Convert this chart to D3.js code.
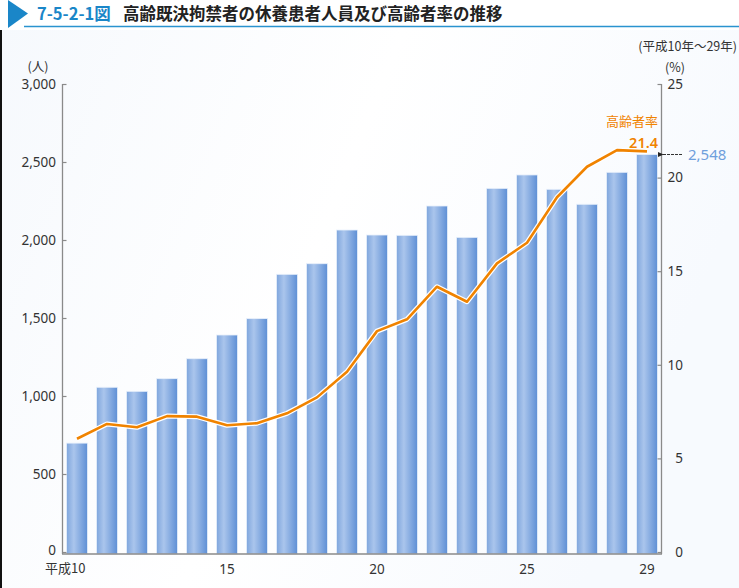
<!DOCTYPE html>
<html>
<head>
<meta charset="utf-8">
<script src="https://cdn.jsdelivr.net/npm/d3@7"></script>
<style>
  html, body { margin: 0; padding: 0; background: #fff; overflow: hidden; }
  svg { display: block; font-family: "Noto Sans CJK JP", "Noto Sans", sans-serif; }
</style>
</head>
<body>
<svg id="chart" width="739" height="588"></svg>
<script>
// ---- data ----
const years = ["10","11","12","13","14","15","16","17","18","19","20","21","22","23","24","25","26","27","28","29"];
const tickYears = ["10","15","20","25","29"];
const patients = [698,1056,1030,1111,1239,1391,1496,1780,1848,2064,2032,2030,2218,2017,2331,2417,2325,2229,2434,2548];
const elderlyRate = [6.05,6.84,6.66,7.26,7.23,6.77,6.88,7.41,8.26,9.63,11.8,12.43,14.17,13.37,15.42,16.52,18.95,20.58,21.47,21.4];
const leftTicks = [0,500,1000,1500,2000,2500,3000];
const rightTicks = [0,5,10,15,20,25];

const svg = d3.select("#chart");
const defs = svg.append("defs");

// faint background tint
const bg = defs.append("linearGradient").attr("id","bgGrad").attr("x1","0").attr("x2","1").attr("y1","0").attr("y2","0.3");
bg.append("stop").attr("offset","0%").attr("stop-color","#f6f9fd");
bg.append("stop").attr("offset","50%").attr("stop-color","#ffffff");
bg.append("stop").attr("offset","100%").attr("stop-color","#f7fafe");
svg.append("rect").attr("x",0).attr("y",30).attr("width",739).attr("height",558).attr("fill","url(#bgGrad)");

// bar gradient
const g1 = defs.append("linearGradient").attr("id","barGrad").attr("x1","0").attr("x2","1").attr("y1","0").attr("y2","0");
g1.append("stop").attr("offset","0%").attr("stop-color","#7fa6dd");
g1.append("stop").attr("offset","35%").attr("stop-color","#aac5ec");
g1.append("stop").attr("offset","100%").attr("stop-color","#5e8fd5");

// frame: left border line
svg.append("line").attr("x1",1).attr("x2",1).attr("y1",28).attr("y2",588)
  .attr("stroke","#111").attr("stroke-width",2);

// header
svg.append("rect").attr("x",0).attr("y",0).attr("width",739).attr("height",30).attr("fill","#fff");
svg.append("path").attr("d","M8,0 L28,13.5 L8,28 Z").attr("fill","#1a86c8");
svg.append("line").attr("x1",24).attr("x2",739).attr("y1",26.5).attr("y2",26.5)
  .attr("stroke","#2a93cf").attr("stroke-width",1.6);
svg.append("text").attr("x",37).attr("y",19.5).attr("font-size",16.5).attr("font-weight","bold")
  .attr("fill","#1a86c8").text("7-5-2-1図");
svg.append("text").attr("x",123).attr("y",19.5).attr("font-size",16.5).attr("font-weight","bold")
  .attr("fill","#222").text("高齢既決拘禁者の休養患者人員及び高齢者率の推移");
svg.append("text").attr("x",737).attr("y",51).attr("text-anchor","end").attr("font-size",12.5).attr("fill","#333")
  .text("(平成10年～29年)");

// scales
const x = d3.scaleBand().domain(years).range([62, 662]).paddingInner(0.3).paddingOuter(0.15);
const yL = d3.scaleLinear().domain([0,3000]).range([552,84]);
const yR = d3.scaleLinear().domain([0,25]).range([552,84]);

// bars
svg.append("g").selectAll("rect").data(patients).join("rect")
  .attr("x",(d,i)=>x(years[i]))
  .attr("y",d=>yL(d))
  .attr("width",x.bandwidth())
  .attr("height",d=>yL(0)-yL(d)+2)
  .attr("fill","url(#barGrad)")
  .attr("stroke","#e8f0fb").attr("stroke-width",0.8);

// axes
const axisColor = "#8a8a8a";
const leftAxis = svg.append("g").attr("transform","translate(62.5,0)")
  .call(d3.axisLeft(yL).tickValues(leftTicks).tickSize(-4).tickPadding(6).tickFormat(d3.format(",")));
const rightAxis = svg.append("g").attr("transform","translate(661.5,0)")
  .call(d3.axisRight(yR).tickValues(rightTicks).tickSize(-4).tickPadding(6));
[leftAxis, rightAxis].forEach(a=>{
  a.select(".domain").attr("stroke",axisColor).attr("stroke-width",1.3).attr("d","M0,84V554");
  a.selectAll(".tick line").attr("stroke",axisColor).attr("stroke-width",1.2);
  a.selectAll(".tick text").attr("fill","#333").attr("font-size",13.5).attr("font-family","'Noto Sans', 'Noto Sans CJK JP', sans-serif");
});
rightAxis.selectAll(".tick text").attr("text-anchor","end").attr("x",21.5);
leftAxis.selectAll(".tick text").attr("x",-6.5);
leftAxis.selectAll(".tick").filter(d=>d===0).select("text").attr("dy","0.2em");

// bottom axis
const bottom = svg.append("g").attr("transform","translate(0,554)")
  .call(d3.axisBottom(x).tickValues(tickYears).tickSize(0).tickPadding(10));
bottom.select(".domain").attr("stroke",axisColor).attr("stroke-width",1.3).attr("d","M62,0H662");
bottom.selectAll(".tick text").attr("fill","#333").attr("font-size",13.5)
  .attr("font-family","'Noto Sans', 'Noto Sans CJK JP', sans-serif");
bottom.selectAll(".tick").filter(d=>d==="10").select("text")
  .attr("text-anchor","end").attr("x",8.5).text("平成10")
  .attr("font-size",13)
  .attr("font-family","'Noto Sans CJK JP', sans-serif");

// unit labels
svg.append("text").attr("x",38).attr("y",71).attr("text-anchor","middle").attr("font-size",12.5)
  .attr("fill","#333").text("(人)");
svg.append("text").attr("x",675).attr("y",72).attr("text-anchor","middle").attr("font-size",12.5)
  .attr("fill","#333").text("(%)");

// line with white halo
const line = d3.line().x((d,i)=>x(years[i]) + x.bandwidth()/2).y(d=>yR(d));
svg.append("path").datum(elderlyRate).attr("d",line).attr("fill","none")
  .attr("stroke","#fff").attr("stroke-width",5).attr("stroke-linejoin","round");
svg.append("path").datum(elderlyRate).attr("d",line).attr("fill","none")
  .attr("stroke","#f08300").attr("stroke-width",2.6).attr("stroke-linejoin","round");

// annotations
const last = elderlyRate.length - 1;
svg.append("text").attr("x",658).attr("y",126).attr("text-anchor","end").attr("font-size",13)
  .attr("fill","#f08300").text("高齢者率");
svg.append("text").attr("x",658).attr("y",147.5).attr("text-anchor","end").attr("font-size",14.5)
  .attr("font-weight","600").attr("fill","#f08300")
  .attr("font-family","'Noto Sans', sans-serif").text(d3.format(".1f")(elderlyRate[last]));

// arrow to last bar value
const yv = yL(patients[last]);
defs.append("marker").attr("id","arr").attr("viewBox","0 0 10 10").attr("refX",1).attr("refY",5)
  .attr("markerWidth",6).attr("markerHeight",6).attr("markerUnits","userSpaceOnUse")
  .attr("orient","auto-start-reverse")
  .append("path").attr("d","M0,5 L10,0.5 L10,9.5 Z").attr("fill","#222");
svg.append("line").attr("x1",663).attr("x2",682).attr("y1",yv).attr("y2",yv)
  .attr("stroke","#333").attr("stroke-width",1.1).attr("stroke-dasharray","3,1")
  .attr("marker-start","url(#arr)");
svg.append("text").attr("x",688).attr("y",yv+5.5).attr("font-size",15)
  .attr("fill","#6f9fdc").attr("font-family","'Noto Sans', sans-serif")
  .text(d3.format(",")(patients[last]));
</script>
</body>
</html>
